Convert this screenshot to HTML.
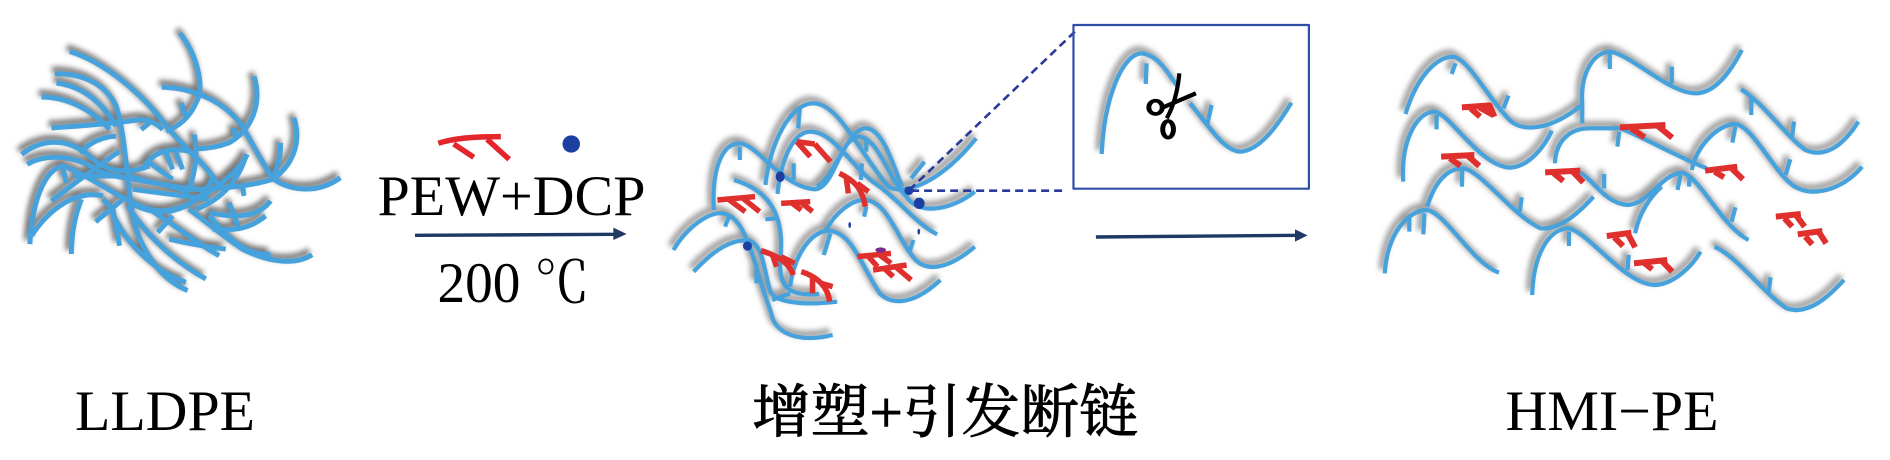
<!DOCTYPE html>
<html><head><meta charset="utf-8"><style>
html,body{margin:0;padding:0;background:#fff;width:1890px;height:460px;overflow:hidden}
svg{display:block}
.ln{fill:none;stroke-linecap:butt;stroke-linejoin:round}
.ln path{vector-effect:non-scaling-stroke}
text{font-family:"Liberation Serif","Noto Serif CJK SC",serif;fill:#000}
</style></head><body>
<svg width="1890" height="460" viewBox="0 0 1890 460" xmlns="http://www.w3.org/2000/svg">
<defs>
<filter id="b" x="-10%" y="-10%" width="120%" height="120%"><feGaussianBlur stdDeviation="2.6"/></filter>
<g id="c1" class="ln" transform="translate(10,20) scale(.332)">
<path d="M512 40C560 100 590 200 560 250C540 295 510 320 470 335"/>
<path d="M735 170C760 250 730 330 660 370C620 385 590 388 560 388"/>
<path d="M457 202C560 205 650 250 700 320C735 380 760 430 790 475C830 510 920 530 995 475"/>
<path d="M855 295C880 370 850 440 790 480C730 500 620 510 540 510"/>
<path d="M180 95C280 125 400 220 480 330C530 390 600 450 610 470C600 520 540 570 460 575C420 575 390 560 350 540"/>
<path d="M135 162C220 160 290 195 320 260C345 340 350 450 365 560"/>
<path d="M140 190C220 200 280 250 320 320"/>
<path d="M95 232C170 232 250 270 300 330"/>
<path d="M125 325C200 320 330 310 390 300C430 300 450 320 460 330"/>
<path d="M35 405C90 360 170 350 240 410C280 450 340 470 420 440"/>
<path d="M52 435C110 400 200 410 260 450C300 480 450 480 540 520"/>
<path d="M60 675C65 560 100 450 160 440C220 460 290 510 350 540C400 580 470 590 530 560C600 520 680 470 715 405"/>
<path d="M65 650C110 580 190 510 280 530"/>
<path d="M185 705C185 640 195 590 215 540"/>
<path d="M125 545C170 510 250 450 330 395"/>
<path d="M258 608C290 580 320 560 350 530"/>
<path d="M535 815C450 780 380 680 365 560"/>
<path d="M590 780C500 730 410 650 355 560"/>
<path d="M530 790C440 760 340 670 300 560"/>
<path d="M630 710C560 670 470 600 420 570"/>
<path d="M910 707C860 740 780 730 700 690C640 650 580 600 540 570"/>
<path d="M785 705C710 710 660 660 600 590"/>
<path d="M785 545C750 590 690 600 600 580"/>
<path d="M770 590C720 630 680 635 610 630"/>
<path d="M815 370C815 410 810 440 790 475"/>
<path d="M712 405C690 480 640 540 560 570"/>
<path d="M400 450C430 390 490 385 540 395C580 430 610 470 630 500"/>
<path d="M555 345C565 400 560 450 540 510"/>
<path d="M515 250L530 290M675 325L680 360M395 330L420 310M470 400L490 450M500 400L520 450M160 450L170 490M445 640L490 590M480 660C520 670 570 680 650 690M660 550L690 630M700 500L705 530M330 680L310 570M210 400C240 370 280 350 320 350M190 470L330 470M360 470C420 490 480 500 560 510M370 510C450 520 520 530 600 540M300 560L280 540M420 430L490 480"/>
</g>
<g id="c2" class="ln" transform="translate(637.6,0) scale(.44843,.33333)">
<path d="M285 555C295 430 340 310 392 310C450 310 500 470 560 560C600 590 680 540 755 415"/>
<path d="M170 630C165 500 190 430 228 430C270 435 320 560 395 568C440 565 450 410 495 410C540 420 560 540 600 590C620 640 690 640 752 575"/>
<path d="M312 582C320 470 350 395 385 395C440 395 480 510 540 560C590 610 620 670 668 703"/>
<path d="M400 560C440 530 470 380 510 385C550 390 570 500 590 560"/>
<path d="M80 750C110 680 160 635 190 640C230 650 245 720 265 800C280 880 295 920 300 950C310 1000 360 1030 435 1005"/>
<path d="M125 815C170 750 210 715 250 722C280 740 280 800 295 870C300 900 350 920 445 905"/>
<path d="M215 540C290 570 330 640 318 780C315 860 335 890 405 882"/>
<path d="M340 860C350 760 390 690 428 692C480 700 500 800 540 880C570 920 620 910 675 840"/>
<path d="M420 690C440 640 480 595 510 600C560 610 580 720 620 780C650 820 700 800 752 740"/>
<path d="M362 320L358 385M228 440L228 480M348 490L348 540M500 490L498 540M510 420L510 455M640 485L610 535M205 645L195 680M285 658L308 655M510 620L505 650M430 700L415 765M615 720L605 760M265 790L265 850M300 900L340 880"/>
</g>
<g id="c2i" class="ln" transform="translate(637.6,0) scale(.44843,.33333)">
<path d="M1035 462C1040 300 1080 160 1125 160C1170 170 1190 240 1205 260"/>
<path d="M1232 310C1280 390 1310 455 1345 455C1390 450 1430 370 1458 308"/>
<path d="M1135 190L1133 252M1280 315L1270 375"/>
</g>
<g id="c3" class="ln" transform="translate(1298.5,0) scale(.37825,.33333)">
<path d="M283 342C310 240 360 170 410 170C450 180 500 290 550 350C590 410 680 380 745 318"/>
<path d="M750 370L750 310C745 220 780 155 825 155C880 165 980 280 1050 280C1100 280 1140 220 1172 150"/>
<path d="M277 545C270 430 310 335 360 335C400 340 480 500 560 503C610 500 650 440 670 392"/>
<path d="M678 490C680 420 720 385 770 385L850 385C910 410 1000 470 1080 505"/>
<path d="M1040 510C1050 440 1110 372 1155 372C1200 380 1250 500 1300 550C1350 600 1440 570 1490 500"/>
<path d="M1170 268C1230 310 1290 410 1340 450C1400 480 1450 420 1480 365"/>
<path d="M340 620C360 550 390 505 435 505C480 510 570 650 640 685C690 690 740 640 780 590"/>
<path d="M228 820C235 700 290 630 340 630C390 640 460 790 530 818"/>
<path d="M618 885C620 770 660 685 715 685C770 700 860 850 940 855C990 855 1040 800 1063 755"/>
<path d="M1100 740C1160 770 1230 880 1290 925C1350 950 1410 880 1442 840"/>
<path d="M745 518C780 540 810 610 870 615C930 610 960 520 1015 518C1060 530 1120 680 1190 720"/>
<path d="M890 700C900 640 930 590 960 560"/>
<path d="M415 190L405 222M555 287L542 325M823 160L823 207M987 200L987 250M1197 295L1197 345M1310 365L1305 410M365 345L365 388M848 395L843 440M1155 380L1147 428M1300 478L1288 525M433 510L432 560M590 592L585 635M808 522L808 565M1010 525L1002 570M1035 530L1032 560M1155 622L1145 665M293 650L293 695M333 640L330 703M715 695L715 738M873 765L870 810M1248 832L1243 875"/>
</g>
</defs>

<!-- shadows -->
<g filter="url(#b)" stroke="#777" stroke-width="6.5" fill="none" transform="translate(-3,-4)"><use href="#c1"/></g>
<g filter="url(#b)" stroke="#9c9c9c" stroke-width="6.5" fill="none" transform="translate(-3,-4)"><use href="#c2"/><use href="#c2i"/><use href="#c3"/></g>

<!-- chains -->
<g stroke="#45a2dd" stroke-width="5" fill="none"><use href="#c1"/></g>
<g stroke="#45a2dd" stroke-width="4.2" fill="none"><use href="#c2"/><use href="#c2i"/><use href="#c3"/></g>

<!-- Left legend -->
<g transform="translate(-2.5,0) scale(.41667,.33333)">
<g class="ln" stroke="#e3262b" stroke-width="5.5"><path d="M1058 430C1100 412 1160 410 1208 410M1095 432L1143 472M1175 418L1228 478"/></g>
<ellipse cx="1377" cy="432" rx="21" ry="26" fill="#1b3fa3"/>
<g class="ln" stroke="#1f3864" stroke-width="3.4"><path d="M1002 706L1485 703"/></g>
<polygon points="1478,683 1510,702 1478,720" fill="#1f3864"/>
</g>

<!-- Mid details -->
<g transform="translate(637.6,0) scale(.44843,.33333)">
<g class="ln" stroke="#e0302e" stroke-width="5.5">
<path d="M178 600L262 590M205 600L240 635M235 595L272 635"/>
<path d="M320 610L385 605M345 610L365 630M365 608L390 635"/>
<path d="M355 425L385 470M395 432L430 485M355 425L395 432"/>
<path d="M450 520C480 540 500 560 508 620M465 530L470 580M490 550L515 575"/>
<path d="M275 752C310 765 340 790 347 825M300 762L310 800M320 770L350 790"/>
<path d="M365 815C400 830 425 860 428 905M390 830L390 880M410 850L435 860"/>
<path d="M490 770L565 760M515 770L535 800M540 765L565 790M525 810L600 795M550 805L570 830M575 800L610 840"/>
</g>
<ellipse cx="542" cy="750" rx="12" ry="8" fill="#7a2a90"/>
<ellipse cx="318" cy="530" rx="10" ry="16" fill="#1b3fa3"/>
<ellipse cx="605" cy="572" rx="10" ry="13" fill="#1b3fa3"/>
<ellipse cx="628" cy="610" rx="12" ry="17" fill="#1b3fa3"/>
<ellipse cx="245" cy="738" rx="10" ry="14" fill="#1b3fa3"/>
<ellipse cx="473" cy="675" rx="3" ry="9" fill="#1b3fa3"/>
<ellipse cx="627" cy="695" rx="3" ry="9" fill="#1b3fa3"/>
<g class="ln" stroke="#2a3a9a" stroke-width="2.6" stroke-dasharray="8 5"><path d="M975 95L610 565"/><path d="M610 572L955 572"/></g>
<g class="ln" stroke="#2f4ea8" stroke-width="2.2"><path d="M972 75H1497V566H972Z"/></g>
<g class="ln" stroke="#1f3864" stroke-width="3.4"><path d="M1022 711L1475 706"/></g>
<polygon points="1466,688 1494,706 1466,725" fill="#1f3864"/>
<!-- scissors -->
<g class="ln" stroke="#000" stroke-width="4.2">
<path d="M1208 220C1205 270 1195 320 1180 355"/>
<path d="M1245 280L1172 322"/>
</g>
<ellipse cx="1155" cy="322" rx="15" ry="20" fill="none" stroke="#000" stroke-width="11"/>
<ellipse cx="1183" cy="388" rx="12" ry="25" fill="none" stroke="#000" stroke-width="11"/>
</g>

<!-- Right reds -->
<g transform="translate(1298.5,0) scale(.37825,.33333)">
<g class="ln" stroke="#e0302e" stroke-width="6">
<path d="M432 322L505 316L518 350M455 325L480 350M478 322L515 345"/>
<path d="M850 382L970 375M880 385L915 412M950 378L988 413"/>
<path d="M377 470L465 465M400 475L428 497M445 465L478 498"/>
<path d="M652 517L745 512M675 520L700 543M725 515L753 547"/>
<path d="M1075 512L1160 500M1100 515L1125 532M1145 505L1175 538"/>
<path d="M1262 650L1328 642M1285 655L1305 680M1315 645L1338 680"/>
<path d="M1320 703L1385 693M1340 710L1358 733M1375 695L1395 730"/>
<path d="M815 708L880 698M835 712L858 738M870 700L890 742"/>
<path d="M887 790L975 780M915 790L935 808M960 782L988 815"/>
</g>
</g>

<!-- Text -->
<text x="75" y="430" font-size="57" textLength="180" lengthAdjust="spacingAndGlyphs">LLDPE</text>
<text x="377.5" y="215" font-size="57" textLength="268" lengthAdjust="spacingAndGlyphs">PEW+DCP</text>
<text x="437.5" y="302" font-size="57" textLength="152" lengthAdjust="spacingAndGlyphs">200 ℃</text>
<text x="752" y="432" font-size="58" textLength="386" lengthAdjust="spacingAndGlyphs" stroke="#000" stroke-width=".9">增塑+引发断链</text>
<text x="1505.5" y="430" font-size="57" textLength="213" lengthAdjust="spacingAndGlyphs">HMI−PE</text>
</svg>
</body></html>
